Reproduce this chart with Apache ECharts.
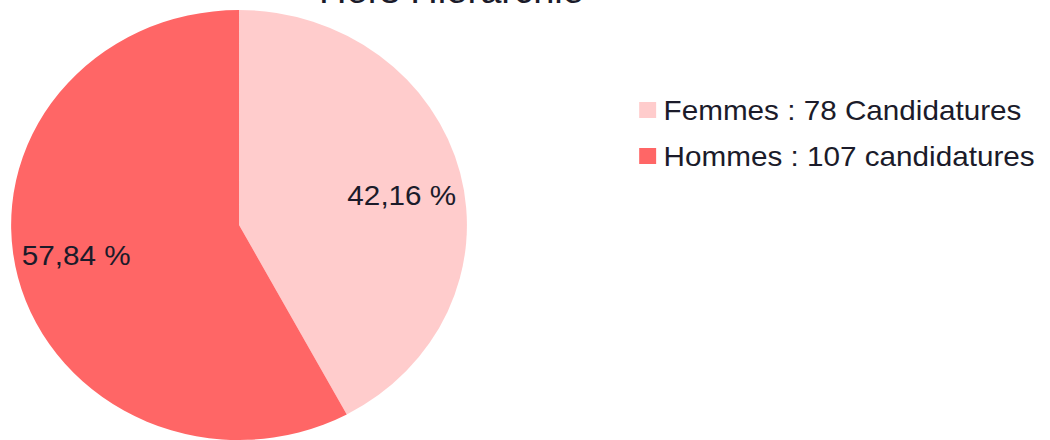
<!DOCTYPE html>
<html>
<head>
<meta charset="utf-8">
<script src="https://cdn.jsdelivr.net/npm/echarts@6/dist/echarts.min.js"></script>
<style>
html,body{margin:0;padding:0;background:#fff;overflow:hidden;}
#wrap{width:1050px;height:440px;overflow:hidden;}
#chart{width:991px;height:440px;transform:scaleX(1.06);transform-origin:0 0;}
</style>
</head>
<body>
<div id="wrap"><div id="chart"></div></div>
<script>
const titleText = 'Hors Hiérarchie';
const categories = ['Femmes', 'Hommes'];
const values = [78, 107];
const legendSuffix = ['Candidatures', 'candidatures'];
const colors = ['#FFCCCC', '#FF6666'];

const total = values.reduce((a, b) => a + b, 0);
const data = categories.map((c, i) => ({ name: c, value: values[i], itemStyle: { color: colors[i] } }));
const fontFamily = '"Liberation Sans", Arial, sans-serif';
const textColor = '#1b1b2a';

const chart = echarts.init(document.getElementById('chart'), null, { renderer: 'svg' });
chart.setOption({
  animation: false,
  backgroundColor: '#fff',
  graphic: [{
    type: 'text',
    x: 426, y: 8,
    style: { text: titleText, fill: textColor, font: '36px ' + fontFamily, textAlign: 'center', textVerticalAlign: 'bottom' }
  }],
  legend: {
    orient: 'vertical', left: 598, top: 90,
    icon: 'rect', itemWidth: 16, itemHeight: 16, itemGap: 16,
    data: categories,
    formatter: name => { const i = categories.indexOf(name); return name + ' : ' + values[i] + ' ' + legendSuffix[i]; },
    textStyle: { fontSize: 28, fontFamily: fontFamily, color: textColor, lineHeight: 30, padding: [0, 0, 0, 2] }
  },
  series: [{
    type: 'pie', center: [225.5, 225], radius: 215, startAngle: 90, clockwise: true,
    data: data, label: { show: false }, labelLine: { show: false }, silent: true
  }, {
    type: 'pie', center: [225.5, 225], radius: [92, 215], startAngle: 87, clockwise: true,
    data: data.map(d => ({ name: d.name, value: d.value })),
    itemStyle: { color: 'rgba(0,0,0,0)' }, silent: true,
    label: {
      show: true, position: 'inside', fontSize: 28, fontFamily: fontFamily, color: textColor,
      formatter: p => (p.value / total * 100).toFixed(2).replace('.', ',') + ' %'
    },
    labelLine: { show: false }
  }]
});
</script>
</body>
</html>
